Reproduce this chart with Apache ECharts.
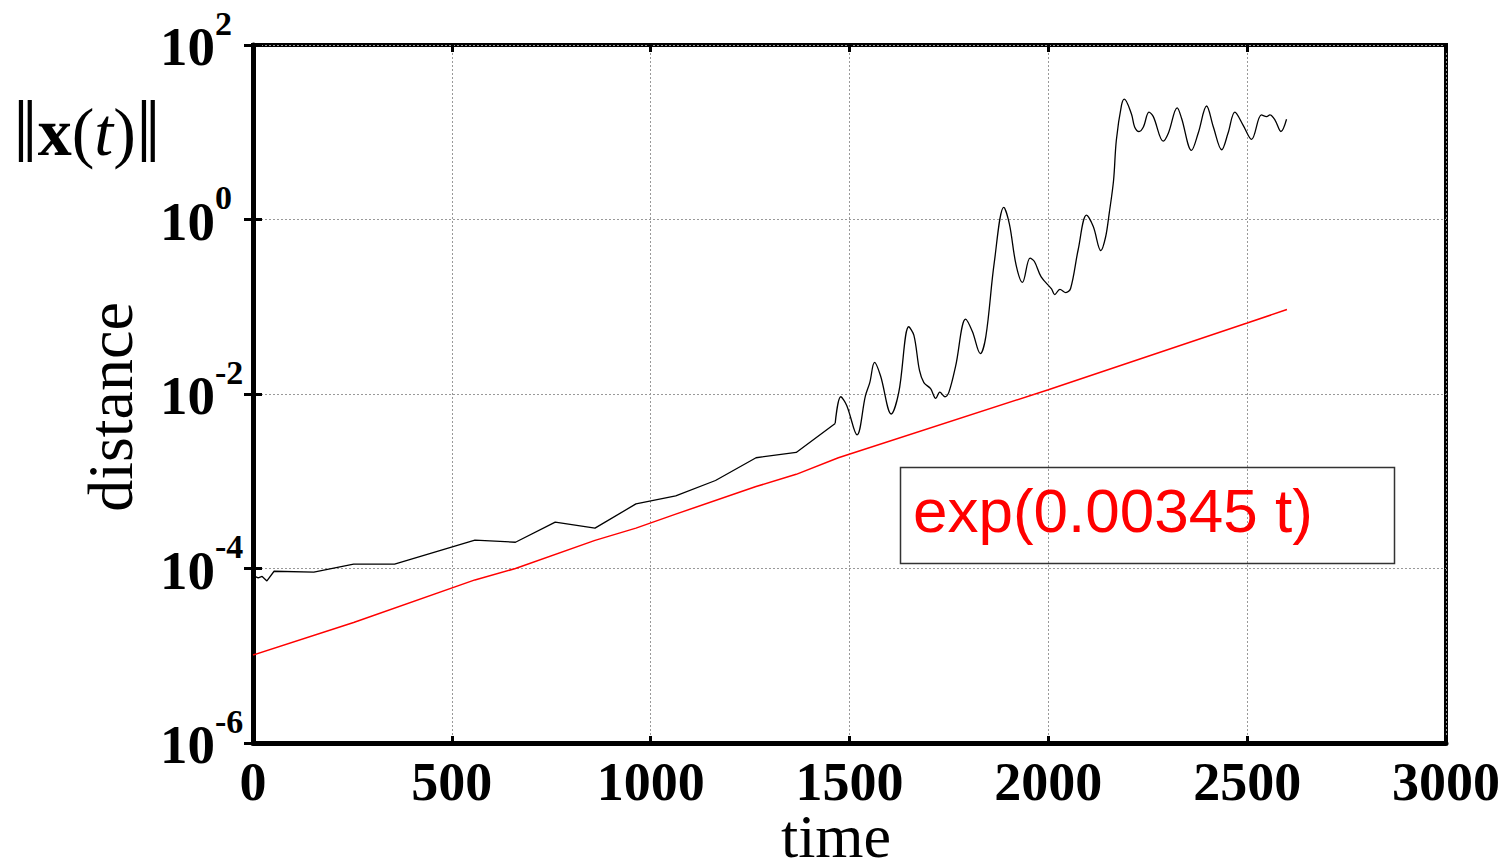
<!DOCTYPE html>
<html><head><meta charset="utf-8">
<script src="https://cdn.jsdelivr.net/npm/echarts@6/dist/echarts.min.js"></script>
<style>html,body{margin:0;padding:0;background:#fff}#c{width:1503px;height:868px}</style>
</head><body><div id="c"></div>
<script>
// time samples and distance values of the black curve
const blackT = [0,13,23,35,53,153,253,356,558,660,760,860,963,1063,1163,1265,1366,1464,
  1478,1493,1519,1540,1551,1563,1578,1605,1624,1649,1662,1676,1687,1704,1717,1727,1740,1750,
  1767,1792,1809,1829,1843,1864,1888,1902,1919,1935,1954,1965,1982,2008,2016,2029,2044,2056,
  2075,2096,2113,2132,2144,2153,2164,2171,2184,2191,2209,2217,2228,2239,2253,2264,2289,2302,
  2324,2335,2360,2377,2398,2415,2436,2452,2469,2490,2511,2536,2549,2557,2570,2585,2599];
const blackV = [8.3e-5,7.8e-5,8.1e-5,7.2e-5,9.3e-5,9.1e-5,1.12e-4,1.12e-4,2.11e-4,2.0e-4,3.4e-4,2.9e-4,5.5e-4,6.8e-4,1.02e-3,1.86e-3,2.14e-3,4.6e-3,
  9.3e-3,7.4e-3,3.4e-3,9.5e-3,1.35e-2,2.3e-2,1.62e-2,5.9e-3,1.05e-2,5.9e-2,4.7e-2,1.86e-2,1.35e-2,1.15e-2,8.9e-3,1.05e-2,9.3e-3,1.05e-2,
  2.1e-2,7.2e-2,5.2e-2,2.9e-2,4.6e-2,0.32,1.38,0.89,0.30,0.19,0.36,0.33,0.22,0.16,0.138,0.158,0.145,0.162,
  0.45,1.12,0.83,0.44,0.63,1.17,2.8,8.1,20.4,24,16.2,11.5,10.2,11.5,17,15.1,7.9,9.8,
  19,14.5,6.2,9.8,20,11.5,6.3,9.8,17,12,8.3,15.8,15.1,15.8,13.8,10.2,14.1];
// red fitted exponential
const redT = [0,253,558,660,860,963,1063,1265,1366,1472,2000,2500,2600];
const redV = [1.02e-5,2.4e-5,7.4e-5,1.0e-4,2.1e-4,2.9e-4,4.2e-4,8.7e-4,1.2e-3,1.86e-3,1.12e-2,6.5e-2,9.3e-2];
const xTicks = ['0','500','1000','1500','2000','2500','3000'];
const yTickExps = ['-6','-4','-2','0','2'];
const legendText = 'exp(0.00345 t)';
const xName = 'time', yName = 'distance';

const splitAt = blackT.indexOf(1464);
const blackData = blackT.map((t,i)=>[t,blackV[i]]);
const redData = redT.map((t,i)=>[t,redV[i]]);
const serif = '"Liberation Serif","Times New Roman",serif';

const chart = echarts.init(document.getElementById('c'), null, {renderer:'svg'});
const gridLine = {show:true, lineStyle:{color:'#999', width:1, type:[2,2]}};
chart.setOption({
  animation:false,
  backgroundColor:'#fff',
  grid:{left:253, right:57, top:45, bottom:125, containLabel:false, outerBoundsMode:'none',
    show:true, borderColor:'#000', borderWidth:4, backgroundColor:'transparent'},
  xAxis:[{
    type:'value', min:0, max:3000, interval:500,
    axisLine:{show:true, onZero:false, lineStyle:{color:'#000', width:5}},
    axisTick:{show:true, inside:true, length:7, lineStyle:{color:'#000', width:3}},
    axisLabel:{margin:12, color:'#000', fontFamily:serif, fontWeight:'bold', fontSize:54,
      formatter:(v)=>xTicks[Math.round(v/500)]},
    splitLine:gridLine
  },{
    type:'value', position:'top', min:0, max:3000, interval:500,
    axisLine:{show:false}, axisLabel:{show:false}, splitLine:{show:false},
    axisTick:{show:true, inside:true, length:7, lineStyle:{color:'#000', width:3}}
  }],
  yAxis:[{
    type:'log', logBase:10, min:1e-6, max:100, interval:2,
    axisLine:{show:true, onZero:false, lineStyle:{color:'#000', width:5}},
    axisTick:{show:true, inside:true, length:9, lineStyle:{color:'#000', width:3}},
    minorTick:{show:false}, minorSplitLine:{show:false},
    axisLabel:{margin:93, align:'left', verticalAlign:'middle', padding:[0,0,10,0], color:'#000', fontFamily:serif, fontWeight:'bold',
      formatter:(v)=>{const e=Math.round(Math.log10(v)); const s=yTickExps[(e+6)/2]; return '{b|10}{s|'+s+'}';},
      rich:{
        b:{fontFamily:serif, fontWeight:'bold', fontSize:55, color:'#000', lineHeight:68, verticalAlign:'bottom'},
        s:{fontFamily:serif, fontWeight:'bold', fontSize:34, color:'#000', lineHeight:28, verticalAlign:'top'}
      }},
    splitLine:gridLine
  },{
    type:'log', logBase:10, min:1e-6, max:100, interval:2, position:'right',
    axisLine:{show:false}, axisLabel:{show:false}, splitLine:{show:false},
    axisTick:{show:true, inside:true, length:9, lineStyle:{color:'#000', width:3}}
  }],
  series:[
    {type:'line', name:'distance', data:blackData.slice(0,splitAt+1), showSymbol:false, symbol:'none',
      lineStyle:{color:'#000', width:1.3}},
    {type:'line', name:'distance2', data:blackData.slice(splitAt), showSymbol:false, symbol:'none', smooth:0.35,
      lineStyle:{color:'#000', width:1.3}},
    {type:'line', name:legendText, data:redData, showSymbol:false, symbol:'none',
      lineStyle:{color:'#ff0000', width:1.5}}
  ],
  graphic:[
    {type:'rect', left:898, top:465, shape:{width:494, height:96},
      style:{fill:'none', stroke:'#333', lineWidth:1.5}, z:100},
    {type:'text', left:913, top:479, z:101,
      style:{text:legendText, fill:'#ff0000', font:'62px "Liberation Sans", Arial, sans-serif'}},
    {type:'text', x:110, y:407, rotation:Math.PI/2, z:101,
      style:{text:yName, fill:'#000', font:'64px '+serif, align:'center', verticalAlign:'middle'}},
    {type:'text', x:836, y:836, z:101,
      style:{text:xName, fill:'#000', font:'62px '+serif, align:'center', verticalAlign:'middle'}},
    {type:'text', left:13, top:88, z:101,
      style:{text:'{bar|‖}{bx|x}{n|(}{it|t}{n|)}{bar|‖}',
        rich:{
          bar:{fontFamily:serif, fontSize:88, fill:'#000', lineHeight:96},
          bx:{fontFamily:serif, fontWeight:'bold', fontSize:68, fill:'#000', lineHeight:96},
          n:{fontFamily:serif, fontSize:68, fill:'#000', lineHeight:96},
          it:{fontFamily:serif, fontStyle:'italic', fontSize:68, fill:'#000', lineHeight:96}
        }}}
  ]
});
</script></body></html>
